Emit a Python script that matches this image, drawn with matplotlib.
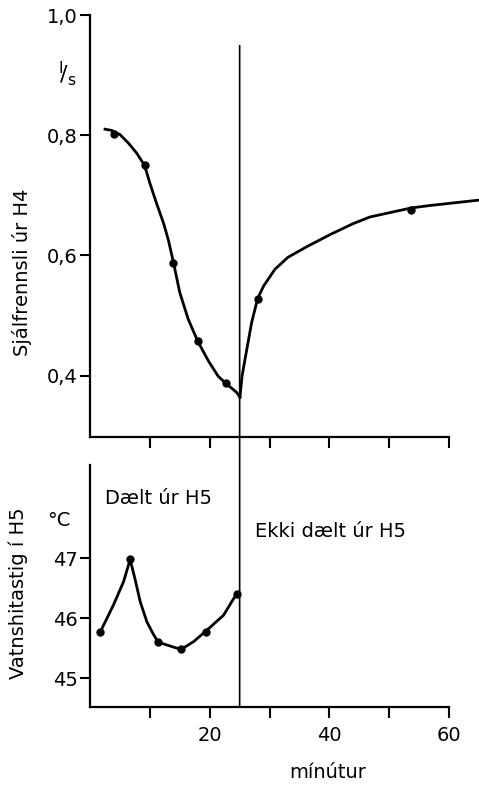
import numpy as np
import matplotlib
matplotlib.use("Agg")
import matplotlib.pyplot as plt
from matplotlib.patches import ConnectionPatch

# Data

# top panel: flow from H4 (l/s), measured dots
flow_x = [4.0, 9.1, 13.9, 18.0, 22.7, 28.0, 53.7]
flow_y = [0.802, 0.750, 0.587, 0.457, 0.388, 0.528, 0.675]

# hand drawn curve before the stop
curve1_x = [2.5, 3.6, 5.0, 6.4, 7.8, 9.1, 10.0, 11.1, 12.3, 13.1, 13.9,
            15.0, 16.4, 18.0, 19.8, 21.4, 22.7, 24.5, 25.05]
curve1_y = [0.810, 0.808, 0.801, 0.787, 0.770, 0.750, 0.720, 0.687, 0.653,
            0.625, 0.590, 0.538, 0.494, 0.457, 0.424, 0.399, 0.387, 0.372, 0.364]

# recovery curve after the stop
curve2_x = [25.05, 25.4, 26.2, 27.0, 28.0, 29.0, 30.9, 33.1, 36.5, 40.4,
            44.0, 46.8, 53.7, 56.8, 65.0]
curve2_y = [0.364, 0.399, 0.444, 0.488, 0.528, 0.549, 0.577, 0.597, 0.616,
            0.636, 0.653, 0.664, 0.679, 0.683, 0.692]

# bottom panel: water temperature in H5 (C)
temp_x = [1.7, 6.7, 11.4, 15.2, 19.4, 24.5]
temp_y = [45.77, 46.98, 45.60, 45.48, 45.77, 46.41]

curve3_x = [1.7, 3.9, 5.6, 6.7, 7.5, 8.4, 9.5, 10.6, 11.4, 15.2, 17.3,
            19.4, 22.3, 24.5]
curve3_y = [45.77, 46.22, 46.61, 46.98, 46.66, 46.27, 45.94, 45.73, 45.60,
            45.48, 45.61, 45.79, 46.05, 46.41]

stop_time = 25

top_ticks = [0.4, 0.6, 0.8, 1.0]
top_labels = ["0,4", "0,6", "0,8", "1,0"]
bot_ticks = [45, 46, 47]
x_ticks = [10, 20, 30, 40, 50, 60]
x_labels = ["", "20", "", "40", "", "60"]

fs = 14

fig = plt.figure(figsize=(4.79, 7.90), dpi=100)

ax1 = fig.add_axes([0.188, 0.447, 0.812, 0.534])
ax2 = fig.add_axes([0.188, 0.105, 0.812, 0.306])

for ax in (ax1, ax2):
    ax.set_xlim(0, 65)
    ax.spines["top"].set_visible(False)
    ax.spines["right"].set_visible(False)
    ax.spines["bottom"].set_bounds(0, 60)
    ax.spines["left"].set_linewidth(1.6)
    ax.spines["bottom"].set_linewidth(1.6)
    ax.tick_params(axis="y", direction="out", length=7, width=1.5,
                   labelsize=fs, pad=2)
    ax.tick_params(axis="x", direction="out", length=8, width=1.5,
                   labelsize=fs, pad=6)
    ax.set_xticks(x_ticks)

# top panel
ax1.set_ylim(0.298, 1.0)
ax1.set_yticks(top_ticks)
ax1.set_yticklabels(top_labels)
ax1.set_xticklabels([])
ax1.plot(curve1_x, curve1_y, color="black", lw=2.0, solid_joinstyle="round")
ax1.plot(curve2_x, curve2_y, color="black", lw=2.0, clip_on=False,
         solid_joinstyle="round")
ax1.plot(flow_x, flow_y, "o", color="black", ms=5)
ax1.set_ylabel("Sjálfrennsli úr H4", fontsize=fs)
ax1.yaxis.set_label_coords(-0.15, 0.39)
ax1.text(-0.035, 0.86, r"$^{\mathregular{l}}\!\mathregular{/}_{\mathregular{s}}$",
         transform=ax1.transAxes, fontsize=fs + 2, ha="right", va="center")

# bottom panel
ax2.set_ylim(44.52, 48.55)
ax2.set_yticks(bot_ticks)
ax2.set_xticklabels(x_labels)
ax2.plot(curve3_x, curve3_y, color="black", lw=2.0, solid_joinstyle="round")
ax2.plot(temp_x, temp_y, "o", color="black", ms=5)
ax2.set_ylabel("Vatnshitastig í H5", fontsize=fs)
ax2.yaxis.set_label_coords(-0.16, 0.47)
ax2.set_xlabel("mínútur", fontsize=fs)
ax2.xaxis.set_label_coords(0.61, -0.23)
ax2.text(-0.08, 0.77, "°C", transform=ax2.transAxes, fontsize=fs,
         ha="center", va="center")
ax2.text(2.5, 48.0, "Dælt úr H5", fontsize=fs, va="center")
ax2.text(27.5, 47.45, "Ekki dælt úr H5", fontsize=fs, va="center")

# vertical line where pumping stopped, across both panels
con = ConnectionPatch(xyA=(stop_time, 0.949), coordsA=ax1.transData,
                      xyB=(stop_time, 44.52), coordsB=ax2.transData,
                      color="black", lw=1.2)
fig.add_artist(con)

plt.savefig("out.png", dpi=100)
